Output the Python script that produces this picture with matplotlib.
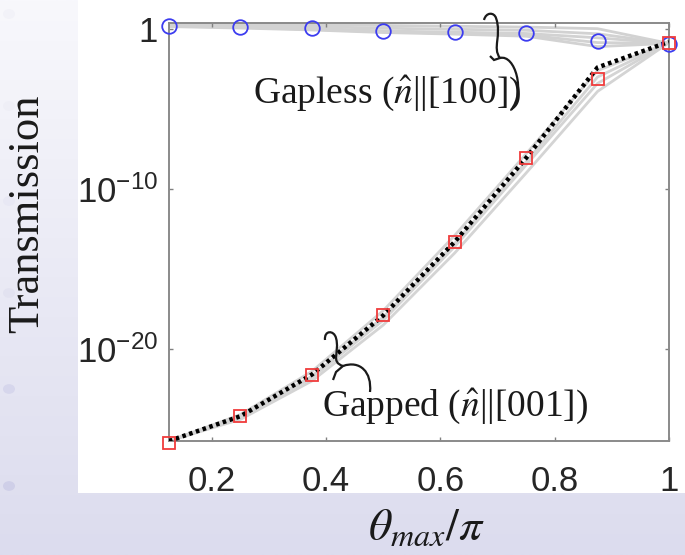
import numpy as np
import matplotlib
matplotlib.use("Agg")
import matplotlib.pyplot as plt
from matplotlib.path import Path
from matplotlib.patches import PathPatch, Rectangle, Circle
from matplotlib.colors import LinearSegmentedColormap

# ---------------- data ----------------
theta = [0.125, 0.25, 0.375, 0.5, 0.625, 0.75, 0.875, 1.0]
# log10 transmission values
gapless_log = [0.21, 0.15, 0.06, -0.15, -0.21, -0.27, -0.75, -0.94]
gapped_log = [-25.85, -24.2, -21.6, -17.9, -13.3, -8.06, -3.1, -0.85]
gapped_fit_log = [-25.75, -24.2, -21.6, -17.9, -13.3, -8.06, -2.4, -0.8]
gray_gapless_log = [
    [0.32, 0.30, 0.27, 0.22, 0.17, 0.12, 0.02, -0.9],
    [0.27, 0.22, 0.15, 0.05, -0.02, -0.08, -0.3, -0.9],
    [0.22, 0.14, 0.04, -0.12, -0.2, -0.28, -0.55, -0.9],
    [0.18, 0.10, -0.02, -0.18, -0.27, -0.37, -0.85, -0.9],
    [0.15, 0.06, -0.06, -0.22, -0.32, -0.45, -1.1, -0.9],
]
gray_gapped_log = [
    [-25.75, -24.1, -21.4, -17.6, -12.9, -7.8, -2.6, -0.85],
    [-25.75, -24.25, -21.7, -18.0, -13.4, -8.3, -3.0, -0.85],
    [-25.75, -24.3, -21.8, -18.2, -13.6, -8.5, -3.4, -0.85],
    [-25.75, -24.4, -22.0, -18.5, -14.0, -9.0, -3.9, -0.85],
]
xticks = [0.2, 0.4, 0.6, 0.8, 1.0]
xticklabels = ["0.2", "0.4", "0.6", "0.8", "1"]
yticks = [1e-20, 1e-10, 1.0]
yticklabels = [r"$\mathregular{10^{-20}}$", r"$\mathregular{10^{-10}}$", "1"]

W, H = 685, 555
fig = plt.figure(figsize=(W / 100, H / 100), dpi=100)
fig.patch.set_facecolor("#e3e3f1")

def fx(px):
    return px / W

def fy(py):
    return 1 - py / H

# background gradient for the slide look
bg = fig.add_axes([0, 0, 1, 1], zorder=-10)
grad = np.linspace(0, 1, 256).reshape(-1, 1)
cmap = LinearSegmentedColormap.from_list("lav", ["#f8f8fc", "#dcdcee"])
bg.imshow(grad, aspect="auto", cmap=cmap, extent=[0, 1, 0, 1], origin="upper")
bg.set_xlim(0, 1)
bg.set_ylim(0, 1)
bg.axis("off")
bg.add_patch(Rectangle((fx(78), fy(493)), 1 - fx(78), fy(0) - fy(493),
                       transform=bg.transAxes, facecolor="white", edgecolor="none"))
for py, c in [(14, "#f2f2f8"), (106, "#eeeef6"), (201, "#e8e8f4"), (293, "#e2e2f0"),
              (389, "#d6d6ec"), (486, "#cfcfe8")]:
    bg.add_patch(Circle((fx(9), fy(py)), 6 / W, transform=bg.transAxes,
                        facecolor=c, edgecolor="none"))

ax = fig.add_axes([fx(169), fy(441), fx(669) - fx(169), fy(23) - fy(441)])
ax.set_yscale("log")

for g in gray_gapless_log:
    ax.plot(theta, np.power(10.0, g), color="#d2d2d2", lw=2.0, zorder=1)
for g in gray_gapped_log:
    ax.plot(theta, np.power(10.0, g), color="#d4d4d4", lw=2.0, zorder=1)

ax.plot(theta, np.power(10.0, gapped_fit_log), color="black", lw=3.2,
        linestyle=(0, (0.8, 0.8)), zorder=3)
ax.plot(theta, np.power(10.0, gapless_log), linestyle="none", marker="o",
        markersize=10.5, markerfacecolor="none", markeredgecolor="#3c3cf0",
        markeredgewidth=1.3, zorder=4, clip_on=False)
ax.plot(theta, np.power(10.0, gapped_log), linestyle="none", marker="s",
        markersize=9, markerfacecolor="none", markeredgecolor="#f03c3c",
        markeredgewidth=1.3, zorder=4, clip_on=False)

ax.set_xlim(0.125, 1.0)
ax.set_ylim(10 ** -25.75, 10 ** 0.375)
ax.set_xticks(xticks)
ax.set_xticklabels(xticklabels)
ax.set_yticks(yticks)
ax.set_yticklabels(yticklabels)
ax.minorticks_off()
ax.tick_params(direction="in", length=3, width=1, color="#808080",
               top=True, right=True, labelsize=25)
ax.tick_params(axis="x", pad=17)
ax.tick_params(axis="y", pad=8)
for lab in ax.get_xticklabels() + ax.get_yticklabels():
    lab.set_fontfamily("Liberation Sans")
    lab.set_color("#262626")
for s in ax.spines.values():
    s.set_color("#8a8a8a")
    s.set_linewidth(1.4)

# labels
fig.text(fx(27), fy(214), "Transmission", rotation=90, ha="center", va="center",
         fontsize=32, family="Liberation Serif", color="#1a1a1a")
fig.text(fx(426), fy(528), r"$\theta_{max}/\pi$", ha="center", va="center",
         fontsize=33, math_fontfamily="stix", color="#1a1a1a")

fig.text(fx(387), fy(93), r"Gapless ($\hat{n}$||[100])", ha="center", va="center",
         fontsize=27, family="Liberation Serif", math_fontfamily="stix", color="#1a1a1a")
fig.text(fx(455), fy(406), r"Gapped ($\hat{n}$||[001])", ha="center", va="center",
         fontsize=27, family="Liberation Serif", math_fontfamily="stix", color="#1a1a1a")

def squiggle(points, codes):
    verts = [(fx(x), fy(y)) for x, y in points]
    p = PathPatch(Path(verts, codes), transform=fig.transFigure, facecolor="none",
                  edgecolor="#1a1a1a", lw=1.6, zorder=10)
    fig.patches.append(p)

C4, M, L = Path.CURVE4, Path.MOVETO, Path.LINETO
# gapless brace
squiggle([(484, 20), (486, 12), (494, 12), (496, 18),
          (502, 35), (492, 48), (500, 58), (494, 60), (490, 56)],
         [M, C4, C4, C4, C4, C4, C4, L, L])
squiggle([(500, 58), (515, 54), (526, 92), (511, 110)], [M, C4, C4, C4])
# gapped brace
squiggle([(325, 340), (324, 330), (334, 330), (336, 338),
          (340, 352), (330, 362), (343, 366), (336, 372), (333, 380)],
         [M, C4, C4, C4, C4, C4, C4, L, L])
squiggle([(343, 366), (360, 360), (372, 372), (370, 392)], [M, C4, C4, C4])

fig.savefig("out.png", dpi=100)
